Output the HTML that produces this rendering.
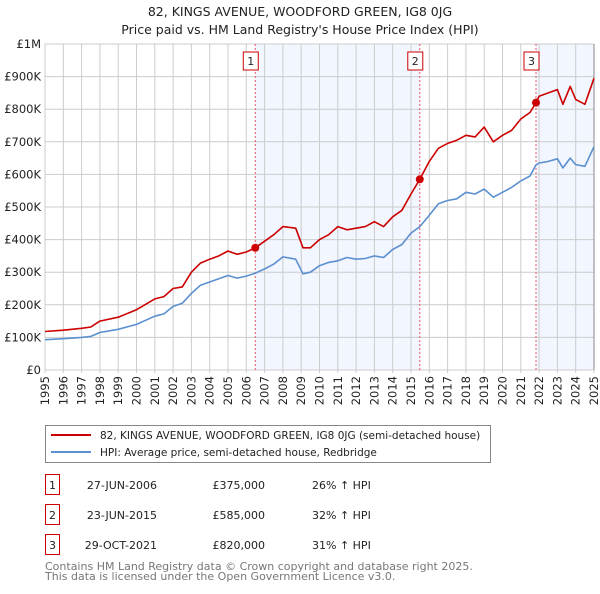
<!DOCTYPE html>
<html><head><meta charset="utf-8"><style>
body{margin:0;background:#fff;font-family:"DejaVu Sans","Liberation Sans",sans-serif;}
svg text{font-family:"DejaVu Sans","Liberation Sans",sans-serif;}
</style></head><body>
<svg id="c" width="600" height="590" viewBox="0 0 600 590">
<text x="300" y="16" text-anchor="middle" font-size="12.5" fill="#222">82, KINGS AVENUE, WOODFORD GREEN, IG8 0JG</text>
<text x="300" y="34" text-anchor="middle" font-size="12.5" fill="#222">Price paid vs. HM Land Registry's House Price Index (HPI)</text>
<g id="plot"></g>
<g>
<rect x="45.5" y="425.5" width="445" height="37" fill="#fff" stroke="#888"/>
<line x1="51" y1="435" x2="91" y2="435" stroke="#cc0000" stroke-width="2"/>
<text x="100" y="439" font-size="10.5" fill="#222">82, KINGS AVENUE, WOODFORD GREEN, IG8 0JG (semi-detached house)</text>
<line x1="51" y1="452" x2="91" y2="452" stroke="#5b8fd0" stroke-width="2"/>
<text x="100" y="456" font-size="10.5" fill="#222">HPI: Average price, semi-detached house, Redbridge</text>
</g>
<g id="tbl"></g>
<text x="45" y="570" font-size="11" fill="#777">Contains HM Land Registry data © Crown copyright and database right 2025.</text>
<text x="45" y="580" font-size="11" fill="#777">This data is licensed under the Open Government Licence v3.0.</text>
</svg>
<script>
const hpiYears=[1995,1996,1997,1997.5,1998,1999,2000,2001,2001.5,2002,2002.5,2003,2003.5,2004,2004.5,2005,2005.5,2006,2006.49,2007,2007.5,2008,2008.7,2009.1,2009.5,2010,2010.5,2011,2011.5,2012,2012.5,2013,2013.5,2014,2014.5,2015,2015.48,2016,2016.5,2017,2017.5,2018,2018.5,2019,2019.5,2020,2020.5,2021,2021.5,2021.83,2022,2022.5,2023,2023.3,2023.7,2024,2024.5,2025];
const hpiValues=[93,96,100,103,115,125,140,165,172,195,205,235,260,270,280,290,282,288,297,310,325,347,340,295,300,320,330,335,345,340,342,350,345,370,385,420,440,475,510,520,525,545,540,555,530,545,560,580,595,629,635,640,648,620,650,630,625,685];
const redValues=[118,122,128,132,150,162,185,218,225,250,255,300,328,340,350,365,355,362,375,395,415,440,435,375,375,400,415,440,430,435,440,455,440,470,490,540,585,640,680,695,705,720,715,745,700,720,735,770,790,820,840,850,860,815,870,830,815,895];
const sales=[{n:"1",y:2006.49,v:375,d:"27-JUN-2006",p:"£375,000",h:"26% ↑ HPI"},{n:"2",y:2015.48,v:585,d:"23-JUN-2015",p:"£585,000",h:"32% ↑ HPI"},{n:"3",y:2021.83,v:820,d:"29-OCT-2021",p:"£820,000",h:"31% ↑ HPI"}];
const yTicks=[0,100,200,300,400,500,600,700,800,900,1000];
const yTickLabels=["£0","£100K","£200K","£300K","£400K","£500K","£600K","£700K","£800K","£900K","£1M"];
const xTicks=[1995,1996,1997,1998,1999,2000,2001,2002,2003,2004,2005,2006,2007,2008,2009,2010,2011,2012,2013,2014,2015,2016,2017,2018,2019,2020,2021,2022,2023,2024,2025];

const NS="http://www.w3.org/2000/svg";
const L=45,R=594,T=44,B=370;
const xs=y=>L+(y-1995)/30*(R-L);
const ys=v=>B-v/1000*(B-T);
const plot=document.getElementById('plot');
function mk(tag,attrs,parent){const e=document.createElementNS(NS,tag);for(const k in attrs)e.setAttribute(k,attrs[k]);(parent||plot).appendChild(e);return e;}
let r=mk('rect',{x:L,y:T,width:R-L,height:B-T,fill:'#fff'});


let s1=mk('rect',{x:xs(sales[0].y),y:T,width:xs(sales[1].y)-xs(sales[0].y),height:B-T,fill:'#f2f6fe'});


let s3=mk('rect',{x:xs(sales[2].y),y:T,width:R-xs(sales[2].y),height:B-T,fill:'#f2f6fe'});


yTicks.forEach((v,i)=>{
 let g=mk('line',{x1:L,x2:R,y1:ys(v),y2:ys(v),stroke:'#ccc','stroke-width':1});
 
 
 let t=mk('text',{x:L-4,y:ys(v)+4,'text-anchor':'end','font-size':11.5,fill:'#222'});
 t.textContent=yTickLabels[i];
 
 
});
xTicks.forEach(y=>{
 let g=mk('line',{x1:xs(y),x2:xs(y),y1:T,y2:B+3,stroke:'#ccc','stroke-width':1});
 
 
 let t=mk('text',{x:0,y:0,'text-anchor':'end','font-size':11.5,fill:'#222',transform:`translate(${xs(y)+4},${B+6}) rotate(-90)`});
 t.textContent=y;
 
 
});
let ax=mk('line',{x1:R,x2:R,y1:T,y2:B,stroke:'#888'});


sales.forEach(s=>{
 let l=mk('line',{x1:xs(s.y),x2:xs(s.y),y1:T,y2:B,stroke:'#ee5566','stroke-dasharray':'2,2','stroke-width':1});
 
 
 let b=mk('rect',{x:xs(s.y)-8-4,y:52,width:15,height:18,fill:'#fff',stroke:'#cc0000'});
 
 
 let t=mk('text',{x:xs(s.y)-4.5,y:65,'text-anchor':'middle','font-size':11,fill:'#222'});
 t.textContent=s.n;
 
 
});
function line(vals,color,name){
 let d=hpiYears.map((y,i)=>(i?'L':'M')+xs(y).toFixed(1)+','+ys(vals[i]).toFixed(1)).join('');
 let p=mk('path',{d:d,fill:'none',stroke:color,'stroke-width':1.6,'stroke-linejoin':'round'});
 
 
}
line(hpiValues,'#5b8fd0','hpi-line');
line(redValues,'#cc0000','property-price-line');
sales.forEach(s=>{
 let c=mk('circle',{cx:xs(s.y),cy:ys(s.v),r:4,fill:'#cc0000'});
 
 
});
const tbl=document.getElementById('tbl');
sales.forEach((s,i)=>{
 const y=485+i*30;
 let b=mk('rect',{x:45.5,y:y-10.5,width:14,height:20,fill:'#fff',stroke:'#cc0000'},tbl);
 
 
 const cols=[[52.5,s.n,'middle','table-index'],[157,s.d,'end','table-date'],[265,s.p,'end','table-price'],[312,s.h,'start','table-hpi-change']];
 cols.forEach(c=>{
  let t=mk('text',{x:c[0],y:y+4,'text-anchor':c[2],'font-size':11,fill:'#222'},tbl);
  t.textContent=c[1];
  
  
 });
});
</script>
</body></html>
